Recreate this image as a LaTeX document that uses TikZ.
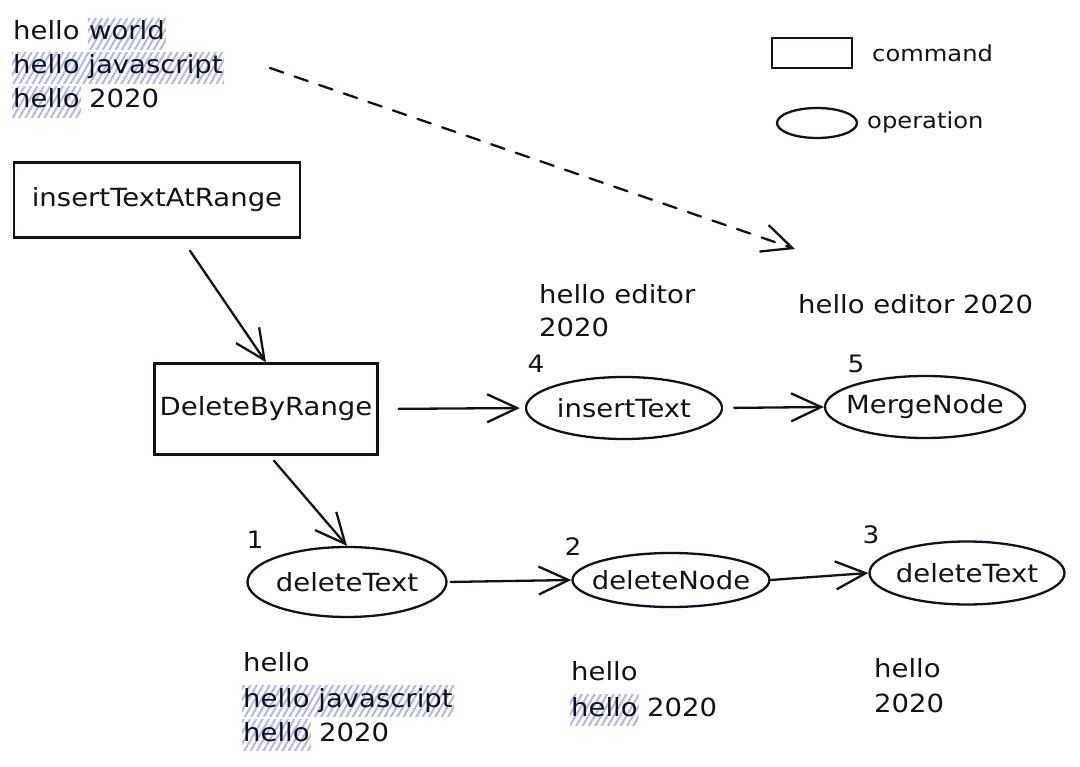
\documentclass[tikz,border=0pt]{standalone}
\usepackage{fontspec}
\setmainfont{DejaVu Sans}[FakeStretch=1.1]
\usetikzlibrary{arrows.meta,shapes.geometric,patterns.meta,backgrounds}
\definecolor{ink}{RGB}{18,18,30}
\definecolor{hatch}{RGB}{180,180,236}
\newcommand\hlbox[1]{\fill[pattern={Lines[angle=60,distance=5.5pt,line width=2pt]},pattern color=hatch] (#1.south west) rectangle (#1.north east);}
\begin{document}
\begin{tikzpicture}[x=1pt,y=-1pt,
  txt/.style={font=\fontsize{25}{30}\selectfont, text=ink, inner xsep=1pt, inner ysep=3pt, text height=18pt, text depth=6pt, anchor=base west},
  lgtxt/.style={font=\fontsize{22}{26}\selectfont, text=ink, inner sep=0pt, anchor=west},
  num/.style={font=\fontsize{24}{28}\selectfont, text=ink, inner sep=0pt},
  cmd/.style={draw=ink, rectangle, line width=2.5pt, font=\fontsize{25}{30}\selectfont, text=ink, inner sep=0pt},
  op/.style={draw=ink, ellipse, line width=2.3pt, font=\fontsize{25}{30}\selectfont, text=ink, inner xsep=-15pt, inner ysep=0pt},
  arr/.style={draw=ink, line width=2.3pt, line cap=round, -{Straight Barb[length=30pt,width=28pt]}}]
\useasboundingbox (0,0) rectangle (1080,767);

% top-left document state
\node[txt] (t1a) at (12,40) {hello};
\node[txt] (t1b) at ([xshift=7pt]t1a.base east) {world};
\node[txt] (t2) at (12,74) {hello javascript};
\node[txt] (t3a) at (12,108) {hello};
\node[txt] (t3b) at ([xshift=7pt]t3a.base east) {2020};

% legend
\node[cmd, minimum width=80pt, minimum height=30pt] (lgc) at (812,53) {};
\node[lgtxt] (lgct) at (872,53) {command};
\node[op, minimum width=80pt, minimum height=30pt] (lgo) at (817,123) {};
\node[lgtxt] (lgot) at (867,122) {operation};

% commands
\node[cmd, minimum width=286pt, minimum height=75pt] (itar) at (157,200) {insertTextAtRange};
\node[cmd, minimum width=223pt, minimum height=91pt] (dbr) at (266,409) {DeleteByRange};

% operations
\node[op, minimum width=196pt, minimum height=62pt] (ins) at (624,408) {insertText};
\node[op, minimum width=200pt, minimum height=62pt] (mrg) at (925,407) {MergeNode};
\node[op, minimum width=199pt, minimum height=70pt] (dt1) at (347,582) {deleteText};
\node[op, minimum width=197pt, minimum height=54pt] (dn) at (671,580) {deleteNode};
\node[op, minimum width=195pt, minimum height=63pt] (dt3) at (967,573) {deleteText};

% numbers
\node[num] (n4) at (536,364) {4};
\node[num] (n5) at (856,364) {5};
\node[num] (n1) at (255,540) {1};
\node[num] (n2) at (573,547) {2};
\node[num] (n3) at (871,535) {3};

% states
\node[txt] (s1) at (538,304) {hello editor};
\node[txt] (s2) at (538,337) {2020};
\node[txt] (s3) at (797,314) {hello editor 2020};
\node[txt] (b1) at (242,671) {hello};
\node[txt] (b2) at (242,707) {hello javascript};
\node[txt] (b3a) at (242,741) {hello};
\node[txt] (b3b) at ([xshift=7pt]b3a.base east) {2020};
\node[txt] (m1) at (570,680) {hello};
\node[txt] (m2a) at (570,716) {hello};
\node[txt] (m2b) at ([xshift=7pt]m2a.base east) {2020};
\node[txt] (r1) at (873,677) {hello};
\node[txt] (r2) at (873,712) {2020};

% connectors
\coordinate (ds) at (270,68);
\coordinate (de) at (795,249);
\draw[arr, dash pattern=on 14pt off 12pt] (ds) -- (de);
\draw[arr] ([xshift=33pt,yshift=-12pt]itar.south) -- (dbr.north);
\draw[arr, shorten <=20pt, shorten >=5pt] (dbr.east) -- (ins.west);
\draw[arr, shorten <=11pt] (ins.east) -- (mrg.west);
\draw[arr] ([xshift=8pt,yshift=-5pt]dbr.south) -- (dt1.north);
\draw[arr, shorten <=3pt] (dt1.east) -- (dn.west);
\draw[arr] (dn.east) -- (dt3.west);

\begin{scope}[on background layer]
\fill[white] (0,0) rectangle (1080,767);
\hlbox{t1b}
\hlbox{t2}
\hlbox{t3a}
\hlbox{b2}
\hlbox{b3a}
\hlbox{m2a}
\end{scope}
\end{tikzpicture}
\end{document}
